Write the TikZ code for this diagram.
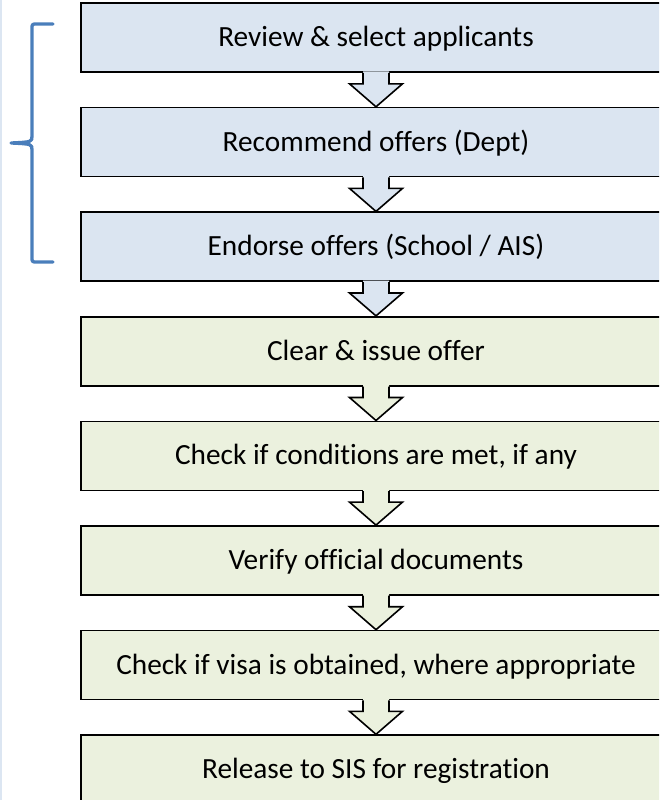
\documentclass[tikz,border=0pt]{standalone}
\usepackage{fontspec}
\setmainfont{Carlito}[Ligatures={NoCommon}]
\usetikzlibrary{calc}
\definecolor{bluebox}{HTML}{DBE5F1}
\definecolor{greenbox}{HTML}{EBF1DE}
\definecolor{bracecol}{HTML}{4A7EBB}
\definecolor{edgecol}{HTML}{DCE6F2}
\tikzset{
  stepbox/.style={draw=black, line width=1.6pt, minimum width=590pt, minimum height=69pt, inner sep=0pt, text height=22pt, text depth=4pt, font=\fontsize{29.3}{31}\selectfont, text=black},
  bluestep/.style={stepbox, fill=bluebox},
  greenstep/.style={stepbox, fill=greenbox},
  bracestyle/.style={draw=bracecol, line width=3.3pt, line cap=round, line join=round},
}
\newcommand{\flowarrow}[3]{%
  \fill[#3] ($(#1.south)+(-13,-1.5)$) -- ($(#1.south)+(-13,11)$) -- ($(#1.south)+(-26.5,11)$) -- (#2.north) -- ($(#1.south)+(26.5,11)$) -- ($(#1.south)+(13,11)$) -- ($(#1.south)+(13,-1.5)$) -- cycle;
  \draw[black, line width=1.6pt, line join=miter] ($(#1.south)+(-13,0)$) -- ($(#1.south)+(-13,11)$) -- ($(#1.south)+(-26.5,11)$) -- (#2.north) -- ($(#1.south)+(26.5,11)$) -- ($(#1.south)+(13,11)$) -- ($(#1.south)+(13,0)$);
}
\begin{document}
\begin{tikzpicture}[x=1pt,y=-1pt]
\useasboundingbox (0,0) rectangle (659,800);
\clip (0,0) rectangle (659,800);
\fill[white] (0,0) rectangle (659,800);
\draw[edgecol, line width=1.5pt] (0.8,0) -- (0.8,800);
\node[bluestep] (b1) at (376,37.5) {Review \& select applicants};
\node[bluestep] (b2) at (376,142.1) {Recommend offers (Dept)};
\node[bluestep] (b3) at (376,246.7) {Endorse offers (School / AIS)};
\node[greenstep] (b4) at (376,351.2) {Clear \& issue offer};
\node[greenstep] (b5) at (376,455.8) {Check if conditions are met, if any};
\node[greenstep] (b6) at (376,560.4) {Verify official documents};
\node[greenstep] (b7) at (376,665.0) {Check if visa is obtained, where appropriate};
\node[greenstep] (b8) at (376,769.6) {Release to SIS for registration};
\flowarrow{b1}{b2}{bluebox}
\flowarrow{b2}{b3}{bluebox}
\flowarrow{b3}{b4}{bluebox}
\flowarrow{b4}{b5}{greenbox}
\flowarrow{b5}{b6}{greenbox}
\flowarrow{b6}{b7}{greenbox}
\flowarrow{b7}{b8}{greenbox}
\draw[bracestyle] (53,24) -- (37,24) .. controls (32,24) .. (32,29) -- (32,136) .. controls (32,142) .. (11,143) .. controls (32,144) .. (32,150) -- (32,257) .. controls (32,262) .. (37,262) -- (53,262);
\end{tikzpicture}
\end{document}
